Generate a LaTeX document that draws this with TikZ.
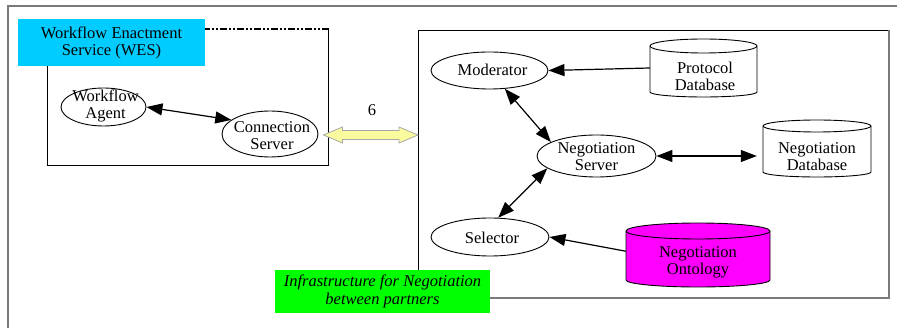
\documentclass[tikz,border=0pt]{standalone}
\usepackage{fontspec}
\setmainfont{Liberation Serif}
\usetikzlibrary{arrows.meta,calc,shapes.geometric}
\definecolor{wescyan}{HTML}{00CCFF}
\definecolor{infgreen}{HTML}{00FF00}
\definecolor{ontmag}{HTML}{FF00FF}
\definecolor{arrowyel}{HTML}{FAFA9E}
\definecolor{framegray}{HTML}{7A7A7A}
\definecolor{arrowedge}{HTML}{A8A8A8}
\newcommand{\dbcyl}[7]{%
  \draw[#1] (#2,#4+#6) -- (#2,#5-#7)
    arc[start angle=180,end angle=0,x radius={(#3-#2)/2},y radius=#7]
    -- (#3,#4+#6)
    arc[start angle=0,end angle=-180,x radius={(#3-#2)/2},y radius=#6] -- cycle;
  \draw[line width=0.9pt] (#2,#4+#6)
    arc[start angle=180,end angle=0,x radius={(#3-#2)/2},y radius=#6];}
\begin{document}
\begin{tikzpicture}[x=1pt,y=-1pt,
  every node/.style={font=\fontsize{16.5}{17}\selectfont},
  ell/.style={draw, ellipse, inner sep=0pt, line width=0.9pt},
  txt/.style={align=center, inner sep=0pt},
  body/.style={inner sep=0pt, draw=none},
  conn/.style={line width=1.2pt, -{Triangle[length=16pt,width=12pt]}},
  biconn/.style={line width=1.2pt, {Triangle[length=16pt,width=12pt]}-{Triangle[length=16pt,width=12pt]}},
  cyl/.style={draw, line width=0.9pt},
]
\useasboundingbox (0,0) rectangle (897,328);

% outer frame
\draw[framegray, line width=1.5pt] (8,330) -- (8,6) -- (899,6);

% WES box
\draw[line width=1pt] (47,29) -- (47,166) -- (328.5,166) -- (328.5,29);
\draw[line width=2pt, dash pattern=on 7pt off 2pt on 2pt off 2pt on 2pt off 2pt] (328.5,29) -- (47,29);
\node[fill=wescyan, minimum width=187pt, minimum height=47pt, inner sep=0pt, align=center] (wes) at (111.5,42.5) {Workflow Enactment\\Service (WES)};

% right box
\node[draw, line width=1pt, minimum width=470pt, minimum height=267pt, inner sep=0pt, anchor=north west] (rbox) at (418,30) {};
\draw[framegray, line width=2pt] (rbox.north east) -- (rbox.south east) -- (rbox.south west);

% WES nodes
\node[ell, minimum width=85pt, minimum height=38pt] (wa) at (103.5,107) {};
\node[txt] (wat) at (105.5,105.5) {Workflow\\Agent};
\node[ell, minimum width=96pt, minimum height=46pt] (cs) at (270,134) {};
\node[txt] (cst) at (272,135.5) {Connection\\Server};

% negotiation nodes
\node[ell, minimum width=117pt, minimum height=37pt] (mod) at (489.5,70.5) {};
\node[txt] (modt) at (492.5,70) {Moderator};
\node[ell, minimum width=119pt, minimum height=42pt] (ns) at (596.5,156) {};
\node[txt] (nst) at (596.5,157) {Negotiation\\Server};
\node[ell, minimum width=118pt, minimum height=38pt] (sel) at (490,237) {};
\node[txt] (selt) at (492,238) {Selector};

% databases
\dbcyl{cyl, fill=white}{650}{757}{39}{97}{7}{5}
\node[body, minimum width=107pt, minimum height=58pt] (pdbb) at (703.5,68) {};
\node[txt] (pdbt) at (705,76.5) {Protocol\\Database};

\dbcyl{cyl, fill=white}{763}{871}{120}{177}{6}{5}
\node[body, minimum width=108pt, minimum height=57pt] (ndbb) at (817,148.5) {};
\node[txt] (ndbt) at (817,157) {Negotiation\\Database};

\dbcyl{cyl, fill=ontmag}{626}{770}{223}{287}{8}{7}
\node[body, minimum width=144pt, minimum height=64pt] (ontb) at (698,255) {};
\node[txt] (ontt) at (698,262.5) {Negotiation\\Ontology};

% connectors
\draw[biconn] (wa.0) -- (cs.160);
\draw[conn] (pdbb.west) -- (mod.east);
\draw[biconn] (mod.-50) -- (ns.163);
\draw[biconn] (ns.-166) -- (sel.67);
\draw[conn] (ontb.177) -- (sel.east);
\draw[biconn] (ns.east) -- ($(ndbb.west |- ns.east)+(-6,0)$);

% yellow double arrow
\coordinate (ya) at ($(cs.east)+(5,1)$);
\coordinate (yb) at (rbox.west |- ya);
\draw[fill=arrowyel, draw=arrowedge, line width=0.8pt]
  (ya) -- ($(ya)+(19,-8)$) -- ($(ya)+(19,-4.5)$) -- ($(yb)+(-19,-4.5)$) -- ($(yb)+(-19,-8)$)
  -- (yb) -- ($(yb)+(-19,8)$) -- ($(yb)+(-19,4.5)$) -- ($(ya)+(19,4.5)$) -- ($(ya)+(19,8)$) -- cycle;
\node[txt] (six) at (372,110) {6};

% infrastructure label
\node[fill=infgreen, minimum width=215pt, minimum height=43pt, inner sep=0pt, align=center,
  font=\fontsize{16.5}{18}\selectfont\itshape] (inf) at (382.5,291.5) {Infrastructure for Negotiation\\between partners};
\end{tikzpicture}
\end{document}
